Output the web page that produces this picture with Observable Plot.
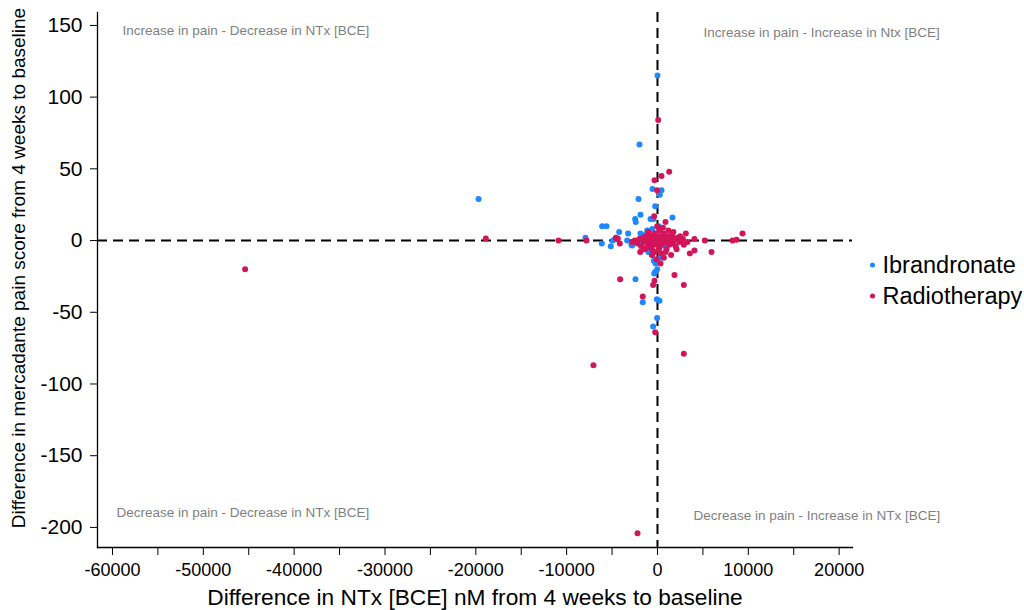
<!DOCTYPE html>
<html>
<head>
<meta charset="utf-8">
<script src="https://cdn.jsdelivr.net/npm/d3@7"></script>
<script src="https://cdn.jsdelivr.net/npm/@observablehq/plot@0.6"></script>
<style>
  html, body { margin: 0; padding: 0; background: #fff; }
  #chart svg { display: block; }
</style>
</head>
<body>
<div id="chart"></div>
<script>
// ---- Data ----
const seriesNames = ["Ibrandronate", "Radiotherapy"];
const seriesColors = ["#1e88ff", "#d4145a"];

const ibrX = [0, -1980, -550, 440, 250, -2090, -19700, -250, -1870, -2460, -2390, -440, 1650, -770,
  -6090, -5610, -4220, -3230, -7930, -6130, -5140, -4920, -2860, -3340, -1870, -1130, -580, 140,
  -2790, -400, -220, -30, -250, -360, -2420, -1620, -70, 220, -40, -480,
  -1500, -800, -300, 200, -1000, 500, -2000, -600, 300, -1300, 900, -100];
const ibrY = [115, 67, 36, 35, 32, 29, 29, 24, 18, 15, 13, 15, 16, 15,
  10, 10, 6, 5, 2, -2, -4, 0, -3, 0, 5, 7, 8, 10,
  -3.5, -14, -16, -20, -22, -23, -27, -43, -41, -42, -54, -60,
  2, -2, 5, -5, -8, 3, -1, -10, -12, 4, -4, 1];

const radX = [-45400, -18900, -10900, -7820, -7050, -2200, 2900, 9360, 8260, 8700, 5950, 5210, 4070, 4070,
  3560, 3120, 2900, 77, 1290, -330, 440, -40, -370, 880, -4590, -4370, -4150, -2790, -4110,
  -330, -480, 2900, -1620, -250, 330, 1870, -30, -4440,
  -2500, -2200, -2000, -1800, -1600, -1500, -1300, -1200, -1100, -1000, -900, -800, -700, -600,
  -500, -400, -300, -200, -100, 0, 100, 200, 300, 400, 500, 600, 700, 800, 900, 1000, 1100, 1200,
  1300, 1400, 1500, 1600, 1700, 1800, 1900, 2000, 2200, 2400, 2600, 2800, 3300, -1900, -600, 400,
  1500, -1000, 200, 900, -300, 700, 1200, 2100, -100, 600, -700, 1000, -1400, 2500, 150, -250, 1750];
const radY = [-20, 1.5, 0, 0, -87, -204, -79, 5, 0, 0.5, -8, 0, 1, -7,
  -9, 5, -3, 84, 48, 42, 45, 35, 17, 13, 2, 1.5, -2, -1, -27,
  -28, -31, -31, -39, -64, -16, -24, 10, 1,
  0, -2, 1, -4, 2, -1, 3, -5, 0, -3, 4, -1, 1, -6,
  2, -2, 5, 0, -3, 1, -1, 3, -4, 0, 2, -2, 5, -1, 1, -6, 3, 0,
  -3, 2, -1, 4, -2, 0, 1, -4, 2, -1, 0, 1, -1, -8, -10, -9,
  -10, 6, 7, -8, -8, -12, 7, -6, -13, 9, -4, 2, -6, 3, -6, 3, 6];

const xTicksMajor = [-60000, -50000, -40000, -30000, -20000, -10000, 0, 10000, 20000];
const xTicksMinor = [-55000, -45000, -35000, -25000, -15000, -5000, 5000, 15000];
const yTicks = [150, 100, 50, 0, -50, -100, -150, -200];

const quadrantLabels = ["Increase in pain - Decrease in NTx [BCE]", "Increase in pain - Increase in Ntx [BCE]",
  "Decrease in pain - Decrease in NTx [BCE]", "Decrease in pain - Increase in NTx [BCE]"];
const quadrantX = [-58900, 5060, -59560, 3960];
const quadrantY = [146.5, 145, -190, -192];

const xLabel = "Difference in NTx [BCE] nM from 4 weeks to baseline";
const yLabel = "Difference in mercadante pain score from 4 weeks to baseline";

// ---- Build ----
const points = [
  ...ibrX.map((x, i) => ({x, y: ibrY[i], group: seriesNames[0]})),
  ...radX.map((x, i) => ({x, y: radY[i], group: seriesNames[1]}))
];
const quads = quadrantLabels.map((t, i) => ({t, x: quadrantX[i], y: quadrantY[i]}));
const font = "Liberation Sans, Arial, Helvetica, sans-serif";

const chart = Plot.plot({
  width: 1024,
  height: 610,
  marginLeft: 97,
  marginRight: 172,
  marginTop: 12,
  marginBottom: 63,
  style: {fontFamily: font, background: "#fff", overflow: "visible"},
  x: {domain: [-61650, 21470]},
  y: {domain: [-214, 159]},
  color: {domain: seriesNames, range: seriesColors},
  marks: [
    Plot.ruleY([0], {stroke: "#000", strokeWidth: 2, strokeDasharray: "10,6"}),
    Plot.ruleX([0], {stroke: "#000", strokeWidth: 2, strokeDasharray: "10,6"}),
    Plot.axisX({ticks: xTicksMajor, tickSize: 8, tickPadding: 8, fontSize: 18, label: null, tickFormat: d => String(d), stroke: "#000", color: "#000"}),
    Plot.axisX({ticks: xTicksMinor, tickSize: 8, tickFormat: () => "", label: null, stroke: "#000"}),
    Plot.axisY({ticks: yTicks, tickSize: 7, tickPadding: 8, fontSize: 21, label: null, tickFormat: d => String(d), stroke: "#000", color: "#000"}),
    Plot.frame({anchor: "left", stroke: "#000", strokeWidth: 1.3}),
    Plot.frame({anchor: "bottom", stroke: "#000", strokeWidth: 1.3}),
    Plot.text(quads, {x: "x", y: "y", text: "t", textAnchor: "start", fill: "#7f7f7f", fontSize: 13.5}),
    Plot.dot(points, {x: "x", y: "y", fill: "group", r: 3, stroke: null}),
    Plot.text([xLabel], {frameAnchor: "bottom", lineAnchor: "middle", dy: 50, fontSize: 22.7, fill: "#000"}),
    Plot.text([yLabel], {frameAnchor: "left", dx: -79, dy: -12, rotate: -90, textAnchor: "middle", fontSize: 19, fill: "#000"}),
    ...seriesNames.map((s, i) => Plot.dot([s], {frameAnchor: "right", dx: 20, dy: -15 + i * 31, r: 2.5, fill: seriesColors[i]})),
    ...seriesNames.map((s, i) => Plot.text([s], {frameAnchor: "right", dx: 30, dy: -15 + i * 31, textAnchor: "start", fontSize: 23.5, fill: "#000"}))
  ]
});
document.getElementById("chart").appendChild(chart);
</script>
</body>
</html>
